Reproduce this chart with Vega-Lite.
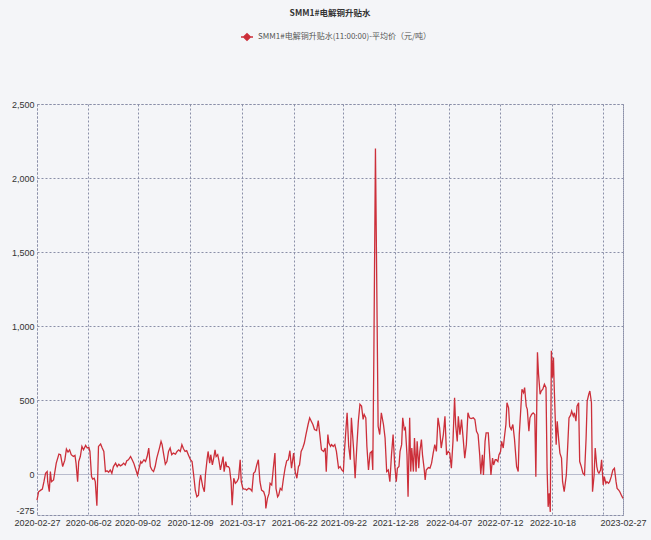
{
  "$schema": "https://vega.github.io/schema/vega-lite/v6.json",
  "width": 586,
  "height": 411,
  "autosize": {"type": "none"},
  "padding": {"left": 37, "top": 104, "right": 28, "bottom": 25},
  "background": "#f4f5f8",
  "title": {
    "text": "SMM1#电解铜升贴水",
    "anchor": "middle",
    "frame": "group",
    "orient": "top",
    "baseline": "bottom",
    "offset": 4,
    "font": "Noto Sans CJK SC",
    "fontSize": 8.5,
    "fontWeight": "bold",
    "color": "#333333"
  },
  "config": {
    "view": {"stroke": "#8a8fa8", "strokeDash": [2, 2], "strokeWidth": 1, "fill": null},
    "axis": {
      "labelFont": "Liberation Sans Narrow, Liberation Sans, sans-serif",
      "labelFontSize": 9,
      "labelColor": "#333333",
      "ticks": false,
      "domain": false,
      "title": null
    }
  },
  "data": {
    "values": [
      {"d":"2020-02-27","v":-175},{"d":"2020-03-01","v":-118},{"d":"2020-03-05","v":-107},{"d":"2020-03-08","v":-100},
      {"d":"2020-03-11","v":-50},{"d":"2020-03-14","v":7},{"d":"2020-03-17","v":18},{"d":"2020-03-18","v":-50},
      {"d":"2020-03-21","v":-118},{"d":"2020-03-23","v":18},{"d":"2020-03-25","v":-50},{"d":"2020-03-29","v":-38},
      {"d":"2020-04-03","v":75},{"d":"2020-04-08","v":136},{"d":"2020-04-11","v":132},{"d":"2020-04-15","v":52},
      {"d":"2020-04-19","v":95},{"d":"2020-04-22","v":170},{"d":"2020-04-25","v":150},{"d":"2020-04-28","v":165},
      {"d":"2020-05-01","v":132},{"d":"2020-05-05","v":120},{"d":"2020-05-08","v":127},{"d":"2020-05-10","v":75},
      {"d":"2020-05-13","v":-50},{"d":"2020-05-15","v":86},{"d":"2020-05-18","v":120},{"d":"2020-05-21","v":188},
      {"d":"2020-05-24","v":165},{"d":"2020-05-28","v":195},{"d":"2020-05-31","v":177},{"d":"2020-06-03","v":181},
      {"d":"2020-06-05","v":154},{"d":"2020-06-08","v":-16},{"d":"2020-06-10","v":-32},{"d":"2020-06-13","v":-27},
      {"d":"2020-06-15","v":-50},{"d":"2020-06-18","v":-213},{"d":"2020-06-20","v":41},{"d":"2020-06-21","v":188},
      {"d":"2020-06-25","v":204},{"d":"2020-06-28","v":177},{"d":"2020-07-01","v":154},{"d":"2020-07-04","v":18},
      {"d":"2020-07-07","v":23},{"d":"2020-07-10","v":14},{"d":"2020-07-13","v":29},{"d":"2020-07-16","v":7},
      {"d":"2020-07-19","v":52},{"d":"2020-07-23","v":75},{"d":"2020-07-26","v":52},{"d":"2020-07-29","v":68},
      {"d":"2020-08-01","v":57},{"d":"2020-08-04","v":63},{"d":"2020-08-07","v":75},{"d":"2020-08-10","v":63},
      {"d":"2020-08-13","v":91},{"d":"2020-08-16","v":98},{"d":"2020-08-20","v":120},{"d":"2020-08-23","v":98},
      {"d":"2020-08-26","v":75},{"d":"2020-08-29","v":41},{"d":"2020-09-02","v":-5},{"d":"2020-09-05","v":41},
      {"d":"2020-09-08","v":86},{"d":"2020-09-10","v":75},{"d":"2020-09-14","v":98},{"d":"2020-09-17","v":86},
      {"d":"2020-09-20","v":120},{"d":"2020-09-23","v":177},{"d":"2020-09-26","v":52},{"d":"2020-09-29","v":29},
      {"d":"2020-10-02","v":18},{"d":"2020-10-05","v":52},{"d":"2020-10-08","v":109},{"d":"2020-10-13","v":177},
      {"d":"2020-10-16","v":222},{"d":"2020-10-18","v":200},{"d":"2020-10-21","v":132},{"d":"2020-10-24","v":68},
      {"d":"2020-10-27","v":86},{"d":"2020-10-30","v":154},{"d":"2020-11-02","v":177},{"d":"2020-11-05","v":132},
      {"d":"2020-11-08","v":143},{"d":"2020-11-12","v":136},{"d":"2020-11-15","v":154},{"d":"2020-11-18","v":165},
      {"d":"2020-11-21","v":154},{"d":"2020-11-24","v":200},{"d":"2020-11-27","v":172},{"d":"2020-11-30","v":154},
      {"d":"2020-12-03","v":159},{"d":"2020-12-06","v":132},{"d":"2020-12-10","v":98},{"d":"2020-12-13","v":86},
      {"d":"2020-12-16","v":-5},{"d":"2020-12-19","v":-107},{"d":"2020-12-22","v":-152},{"d":"2020-12-25","v":-141},
      {"d":"2020-12-27","v":-50},{"d":"2020-12-29","v":-5},{"d":"2021-01-02","v":-84},{"d":"2021-01-05","v":-118},
      {"d":"2021-01-07","v":-5},{"d":"2021-01-10","v":98},{"d":"2021-01-12","v":154},{"d":"2021-01-15","v":75},
      {"d":"2021-01-17","v":132},{"d":"2021-01-20","v":63},{"d":"2021-01-22","v":98},{"d":"2021-01-25","v":165},
      {"d":"2021-01-27","v":120},{"d":"2021-01-30","v":132},{"d":"2021-02-01","v":98},{"d":"2021-02-04","v":29},
      {"d":"2021-02-06","v":63},{"d":"2021-02-09","v":120},{"d":"2021-02-11","v":18},{"d":"2021-02-14","v":86},
      {"d":"2021-02-16","v":52},{"d":"2021-02-19","v":52},{"d":"2021-02-21","v":41},{"d":"2021-02-24","v":-50},
      {"d":"2021-02-26","v":-209},{"d":"2021-03-01","v":-27},{"d":"2021-03-04","v":-61},{"d":"2021-03-07","v":-50},
      {"d":"2021-03-10","v":-27},{"d":"2021-03-13","v":98},{"d":"2021-03-15","v":-50},{"d":"2021-03-18","v":-95},
      {"d":"2021-03-20","v":-100},{"d":"2021-03-23","v":-100},{"d":"2021-03-25","v":-107},{"d":"2021-03-29","v":-95},
      {"d":"2021-04-01","v":-100},{"d":"2021-04-04","v":-113},{"d":"2021-04-07","v":7},{"d":"2021-04-10","v":18},
      {"d":"2021-04-13","v":63},{"d":"2021-04-16","v":98},{"d":"2021-04-19","v":-50},{"d":"2021-04-22","v":-107},
      {"d":"2021-04-26","v":-118},{"d":"2021-04-29","v":-152},{"d":"2021-04-30","v":-231},{"d":"2021-05-03","v":-163},
      {"d":"2021-05-06","v":-129},{"d":"2021-05-08","v":-61},{"d":"2021-05-11","v":-73},{"d":"2021-05-14","v":41},
      {"d":"2021-05-17","v":143},{"d":"2021-05-19","v":-95},{"d":"2021-05-22","v":-152},{"d":"2021-05-24","v":-141},
      {"d":"2021-05-27","v":-95},{"d":"2021-05-30","v":-107},{"d":"2021-06-02","v":-27},{"d":"2021-06-05","v":41},
      {"d":"2021-06-08","v":91},{"d":"2021-06-11","v":98},{"d":"2021-06-14","v":159},{"d":"2021-06-17","v":41},
      {"d":"2021-06-21","v":143},{"d":"2021-06-24","v":18},{"d":"2021-06-27","v":-27},{"d":"2021-06-30","v":52},
      {"d":"2021-07-02","v":63},{"d":"2021-07-05","v":154},{"d":"2021-07-08","v":177},{"d":"2021-07-11","v":211},
      {"d":"2021-07-14","v":268},{"d":"2021-07-18","v":336},{"d":"2021-07-21","v":381},{"d":"2021-07-24","v":358},
      {"d":"2021-07-27","v":336},{"d":"2021-07-30","v":302},{"d":"2021-08-03","v":295},{"d":"2021-08-06","v":363},
      {"d":"2021-08-09","v":268},{"d":"2021-08-12","v":166},{"d":"2021-08-16","v":154},{"d":"2021-08-19","v":177},
      {"d":"2021-08-21","v":18},{"d":"2021-08-24","v":268},{"d":"2021-08-26","v":211},{"d":"2021-08-29","v":188},
      {"d":"2021-08-31","v":200},{"d":"2021-09-03","v":188},{"d":"2021-09-06","v":200},{"d":"2021-09-09","v":154},
      {"d":"2021-09-13","v":41},{"d":"2021-09-16","v":52},{"d":"2021-09-19","v":29},{"d":"2021-09-22","v":18},
      {"d":"2021-09-24","v":154},{"d":"2021-09-27","v":313},{"d":"2021-09-29","v":415},{"d":"2021-10-02","v":188},
      {"d":"2021-10-05","v":98},{"d":"2021-10-07","v":381},{"d":"2021-10-11","v":177},{"d":"2021-10-14","v":-27},
      {"d":"2021-10-17","v":177},{"d":"2021-10-20","v":358},{"d":"2021-10-23","v":472},{"d":"2021-10-26","v":460},
      {"d":"2021-10-29","v":370},{"d":"2021-10-31","v":404},{"d":"2021-11-03","v":381},{"d":"2021-11-05","v":188},
      {"d":"2021-11-08","v":29},{"d":"2021-11-11","v":143},{"d":"2021-11-14","v":154},{"d":"2021-11-16","v":29},
      {"d":"2021-11-18","v":790},{"d":"2021-11-21","v":2200},{"d":"2021-11-26","v":324},{"d":"2021-11-29","v":268},
      {"d":"2021-12-02","v":415},{"d":"2021-12-06","v":336},{"d":"2021-12-09","v":245},{"d":"2021-12-12","v":18},
      {"d":"2021-12-15","v":29},{"d":"2021-12-18","v":-50},{"d":"2021-12-21","v":131},{"d":"2021-12-24","v":268},
      {"d":"2021-12-27","v":63},{"d":"2021-12-30","v":-50},{"d":"2022-01-01","v":41},{"d":"2022-01-04","v":52},
      {"d":"2022-01-06","v":154},{"d":"2022-01-09","v":200},{"d":"2022-01-11","v":381},{"d":"2022-01-14","v":302},
      {"d":"2022-01-16","v":313},{"d":"2022-01-19","v":131},{"d":"2022-01-21","v":-152},{"d":"2022-01-24","v":381},
      {"d":"2022-01-26","v":18},{"d":"2022-01-28","v":177},{"d":"2022-01-31","v":18},{"d":"2022-02-02","v":245},
      {"d":"2022-02-05","v":18},{"d":"2022-02-07","v":222},{"d":"2022-02-10","v":41},{"d":"2022-02-12","v":154},
      {"d":"2022-02-15","v":234},{"d":"2022-02-17","v":131},{"d":"2022-02-20","v":41},{"d":"2022-02-22","v":-39},
      {"d":"2022-02-24","v":29},{"d":"2022-02-28","v":45},{"d":"2022-03-03","v":41},{"d":"2022-03-06","v":75},
      {"d":"2022-03-09","v":143},{"d":"2022-03-12","v":200},{"d":"2022-03-15","v":154},{"d":"2022-03-18","v":381},
      {"d":"2022-03-21","v":313},{"d":"2022-03-24","v":177},{"d":"2022-03-28","v":268},{"d":"2022-03-31","v":392},
      {"d":"2022-04-03","v":131},{"d":"2022-04-06","v":154},{"d":"2022-04-09","v":143},{"d":"2022-04-12","v":41},
      {"d":"2022-04-15","v":222},{"d":"2022-04-18","v":517},{"d":"2022-04-20","v":336},{"d":"2022-04-23","v":222},
      {"d":"2022-04-25","v":392},{"d":"2022-04-28","v":268},{"d":"2022-05-01","v":370},{"d":"2022-05-04","v":245},
      {"d":"2022-05-07","v":109},{"d":"2022-05-10","v":200},{"d":"2022-05-13","v":415},{"d":"2022-05-16","v":381},
      {"d":"2022-05-19","v":376},{"d":"2022-05-23","v":381},{"d":"2022-05-26","v":370},{"d":"2022-05-29","v":290},
      {"d":"2022-06-01","v":268},{"d":"2022-06-04","v":131},{"d":"2022-06-06","v":0},{"d":"2022-06-09","v":131},
      {"d":"2022-06-11","v":-5},{"d":"2022-06-14","v":222},{"d":"2022-06-16","v":279},{"d":"2022-06-20","v":279},
      {"d":"2022-06-23","v":109},{"d":"2022-06-25","v":-5},{"d":"2022-06-28","v":109},{"d":"2022-06-30","v":63},
      {"d":"2022-07-03","v":98},{"d":"2022-07-05","v":98},{"d":"2022-07-08","v":86},{"d":"2022-07-10","v":131},
      {"d":"2022-07-13","v":154},{"d":"2022-07-15","v":222},{"d":"2022-07-18","v":177},{"d":"2022-07-20","v":245},
      {"d":"2022-07-23","v":336},{"d":"2022-07-25","v":483},{"d":"2022-07-28","v":449},{"d":"2022-07-30","v":324},
      {"d":"2022-08-02","v":302},{"d":"2022-08-05","v":336},{"d":"2022-08-08","v":240},{"d":"2022-08-12","v":52},
      {"d":"2022-08-15","v":18},{"d":"2022-08-17","v":268},{"d":"2022-08-20","v":449},{"d":"2022-08-22","v":574},
      {"d":"2022-08-25","v":551},{"d":"2022-08-27","v":585},{"d":"2022-08-30","v":460},{"d":"2022-09-01","v":438},
      {"d":"2022-09-04","v":290},{"d":"2022-09-06","v":381},{"d":"2022-09-09","v":404},{"d":"2022-09-12","v":415},
      {"d":"2022-09-15","v":404},{"d":"2022-09-17","v":-16},{"d":"2022-09-20","v":823},{"d":"2022-09-22","v":676},
      {"d":"2022-09-25","v":540},{"d":"2022-09-27","v":562},{"d":"2022-09-30","v":574},{"d":"2022-10-03","v":608},
      {"d":"2022-10-06","v":585},{"d":"2022-10-08","v":41},{"d":"2022-10-10","v":-220},{"d":"2022-10-12","v":-129},
      {"d":"2022-10-14","v":-254},{"d":"2022-10-16","v":834},{"d":"2022-10-18","v":653},{"d":"2022-10-20","v":789},
      {"d":"2022-10-21","v":630},{"d":"2022-10-23","v":404},{"d":"2022-10-25","v":200},{"d":"2022-10-27","v":358},
      {"d":"2022-10-30","v":222},{"d":"2022-11-01","v":143},{"d":"2022-11-04","v":109},{"d":"2022-11-06","v":-50},
      {"d":"2022-11-09","v":-118},{"d":"2022-11-11","v":-61},{"d":"2022-11-13","v":-5},{"d":"2022-11-16","v":222},
      {"d":"2022-11-18","v":381},{"d":"2022-11-21","v":399},{"d":"2022-11-23","v":426},{"d":"2022-11-26","v":392},
      {"d":"2022-11-28","v":415},{"d":"2022-12-01","v":358},{"d":"2022-12-03","v":460},{"d":"2022-12-06","v":483},
      {"d":"2022-12-08","v":86},{"d":"2022-12-11","v":52},{"d":"2022-12-14","v":7},{"d":"2022-12-17","v":-5},
      {"d":"2022-12-20","v":245},{"d":"2022-12-22","v":494},{"d":"2022-12-25","v":540},{"d":"2022-12-27","v":562},
      {"d":"2022-12-30","v":483},{"d":"2023-01-01","v":-118},{"d":"2023-01-04","v":-5},{"d":"2023-01-06","v":177},
      {"d":"2023-01-09","v":52},{"d":"2023-01-11","v":18},{"d":"2023-01-13","v":7},{"d":"2023-01-16","v":29},
      {"d":"2023-01-18","v":98},{"d":"2023-01-21","v":-73},{"d":"2023-01-23","v":-16},{"d":"2023-01-26","v":-61},
      {"d":"2023-01-28","v":-50},{"d":"2023-01-31","v":-61},{"d":"2023-02-02","v":-50},{"d":"2023-02-05","v":-16},
      {"d":"2023-02-08","v":29},{"d":"2023-02-11","v":41},{"d":"2023-02-14","v":-50},{"d":"2023-02-16","v":-95},
      {"d":"2023-02-19","v":-107},{"d":"2023-02-21","v":-118},{"d":"2023-02-24","v":-141},{"d":"2023-02-27","v":-163}
    ]
  },
  "mark": {"type": "line", "strokeWidth": 1.3, "interpolate": "linear"},
  "encoding": {
    "x": {
      "field": "d",
      "type": "temporal",
      "scale": {
        "type": "utc",
        "domain": [
          {"year": 2020, "month": 2, "date": 27, "utc": true},
          {"year": 2023, "month": 2, "date": 27, "utc": true}
        ],
        "nice": false
      },
      "axis": {
        "values": [
          {"year": 2020, "month": 2, "date": 27, "utc": true},
          {"year": 2020, "month": 6, "date": 2, "utc": true},
          {"year": 2020, "month": 9, "date": 2, "utc": true},
          {"year": 2020, "month": 12, "date": 9, "utc": true},
          {"year": 2021, "month": 3, "date": 17, "utc": true},
          {"year": 2021, "month": 6, "date": 22, "utc": true},
          {"year": 2021, "month": 9, "date": 22, "utc": true},
          {"year": 2021, "month": 12, "date": 28, "utc": true},
          {"year": 2022, "month": 4, "date": 7, "utc": true},
          {"year": 2022, "month": 7, "date": 12, "utc": true},
          {"year": 2022, "month": 10, "date": 18, "utc": true},
          {"year": 2023, "month": 1, "date": 20, "utc": true},
          {"year": 2023, "month": 2, "date": 27, "utc": true}
        ],
        "format": "%Y-%m-%d",
        "labelExpr": "datum.label == '2023-01-20' ? '' : datum.label",
        "labelOverlap": false,
        "labelBound": false,
        "labelFlush": false,
        "labelPadding": 3,
        "grid": true,
        "gridColor": "#8a8fa8",
        "gridDash": [2, 2],
        "gridWidth": 1
      }
    },
    "y": {
      "field": "v",
      "type": "quantitative",
      "scale": {"domain": [-275, 2500], "nice": false, "zero": false},
      "axis": {
        "values": [-275, 0, 500, 1000, 1500, 2000, 2500],
        "format": ",.0f",
        "labelExpr": "replace(datum.label, '−', '-')",
        "labelPadding": 3,
        "labelBaseline": {"condition": {"test": "datum.value === -275", "value": "bottom"}, "value": "middle"},
        "grid": true,
        "gridColor": {"condition": {"test": "datum.value === 0", "value": "#b9bccd"}, "value": "#8a8fa8"},
        "gridDash": {"condition": {"test": "datum.value === 0", "value": []}, "value": [2, 2]},
        "gridWidth": 1
      }
    },
    "color": {
      "datum": "SMM1#电解铜升贴水(11:00:00)-平均价（元/吨）",
      "type": "nominal",
      "scale": {"range": ["#cc2f3a"]},
      "legend": {
        "title": null,
        "orient": "none",
        "legendX": 203,
        "legendY": -74,
        "labelFont": "Noto Sans CJK SC",
        "labelFontSize": 8,
        "labelColor": "#555555",
        "labelLimit": 400,
        "symbolType": "M-1,0L1,0M0,-0.55L0.55,0L0,0.55L-0.55,0Z",
        "symbolSize": 144,
        "symbolStrokeWidth": 1.5,
        "symbolFillColor": "#cc2f3a",
        "symbolStrokeColor": "#cc2f3a",
        "encode": {"symbols": {"update": {"fill": {"value": "#cc2f3a"}, "stroke": {"value": "#cc2f3a"}}}}
      }
    }
  }
}
